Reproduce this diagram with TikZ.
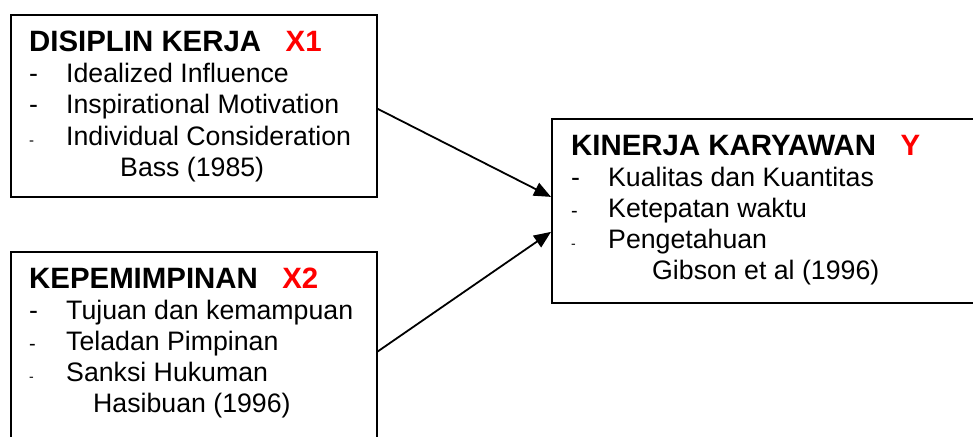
\documentclass[tikz,border=0pt]{standalone}
\usepackage{fontspec}
\setmainfont{Liberation Sans}
\usetikzlibrary{arrows.meta}
\usetikzlibrary{positioning}

\newcommand{\judul}[2]{\multicolumn{2}{@{}l@{}}{\fontsize{29.4}{31}\selectfont\bfseries #1\ \ \ \textcolor{red}{#2}}\\}
\newcommand{\itm}[2]{\makebox[37pt][l]{\fontsize{#1}{31}\selectfont -}&#2\\}
\newcommand{\sumber}[2]{\multicolumn{2}{@{}l@{}}{\hspace{#1}#2}}

\begin{document}
\begin{tikzpicture}[x=1pt,y=-1pt]
			\tikzset{box/.style = {shape=rectangle,draw,line width=1.8pt,
					anchor=north west,inner sep=0pt}}
			\tikzset{teks/.style = {anchor=base west,inner sep=0pt,
					font=\fontsize{26.7}{31}\selectfont}}
			\tikzset{edge/.style = {-{Triangle[length=17pt,width=14pt]}, line width=1.8pt}}
			
			\useasboundingbox (0,0) rectangle (973,436);
			\clip (0,0) rectangle (973,436);
			
			% boxes
			\node[box,minimum width=366pt,minimum height=182pt] (dis) at (10,14) {};
			\node[box,minimum width=366pt,minimum height=199pt] (kep) at (10,251) {};
			\node[box,minimum width=440pt,minimum height=184pt] (kin) at (551,118) {};
			
			% texts
			\node[teks] (disT) at (29,52) {\begin{tabular}[t]{@{}l@{}l@{}}
					\judul{DISIPLIN KERJA}{X1}
					\itm{26.7}{Idealized Influence}
					\itm{26.7}{Inspirational Motivation}
					\itm{15}{Individual Consideration}
					\sumber{91pt}{Bass (1985)}
				\end{tabular}};
			\node[teks] (kepT) at (29,288) {\begin{tabular}[t]{@{}l@{}l@{}}
					\judul{KEPEMIMPINAN}{X2}
					\itm{26.7}{Tujuan dan kemampuan}
					\itm{20}{Teladan Pimpinan}
					\itm{14}{Sanksi Hukuman}
					\sumber{64pt}{Hasibuan (1996)}
				\end{tabular}};
			\node[teks] (kinT) at (571,155) {\begin{tabular}[t]{@{}l@{}l@{}}
					\judul{KINERJA KARYAWAN}{Y}
					\itm{26.7}{Kualitas dan Kuantitas}
					\itm{20}{Ketepatan waktu}
					\itm{14}{Pengetahuan}
					\sumber{81pt}{Gibson et al (1996)}
				\end{tabular}};
			
			%edges
			\draw[edge] ([yshift=-3pt]dis.east) to ([yshift=14pt]kin.west);
			\draw[edge] (kep.east) to ([yshift=-21pt]kin.west);
			
\end{tikzpicture}
\end{document}
